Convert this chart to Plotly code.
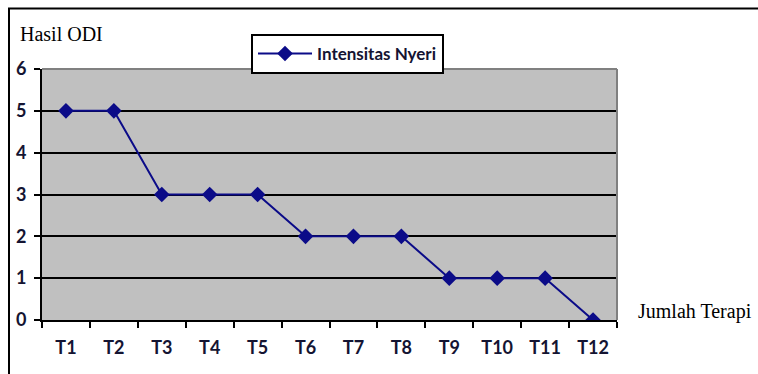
import plotly.graph_objects as go

categories = ["T1", "T2", "T3", "T4", "T5", "T6", "T7", "T8", "T9", "T10", "T11", "T12"]
intensitas_nyeri = [5, 5, 3, 3, 3, 2, 2, 2, 1, 1, 1, 0]
y_ticks = [0, 1, 2, 3, 4, 5, 6]

W, H = 758, 374
L, R, T, B = 42, 617, 69, 320

def px(x):
    return (x - L) / (R - L)

def py(y):
    return (B - y) / (B - T)

navy = "#0B0B88"
tickcol = "#141432"

fig = go.Figure()
fig.add_trace(go.Scatter(
    x=categories, y=intensitas_nyeri, mode="lines+markers", name="Intensitas Nyeri",
    line=dict(color=navy, width=2),
    marker=dict(symbol="diamond", size=12, color=navy),
))

fig.update_layout(
    width=W, height=H,
    margin=dict(l=L, r=W - R, t=T, b=H - B, pad=0, autoexpand=False),
    paper_bgcolor="white",
    plot_bgcolor="#C0C0C0",
    showlegend=True,
    legend=dict(
        x=px(251), y=py(34), xanchor="left", yanchor="top",
        bordercolor="black", borderwidth=2, bgcolor="white",
        font=dict(family="Lato", size=17, color=tickcol, weight="bold"),
        itemwidth=54,
    ),
    xaxis=dict(
        type="category", tickson="boundaries", ticks="outside", ticklen=6, tickwidth=2,
        tickcolor="black", showline=True, linecolor="black", linewidth=2,
        showgrid=False, zeroline=False, automargin=False,
        tickfont=dict(family="Lato", size=18, color=tickcol, weight="bold"),
        ticklabelstandoff=10,
        range=[-0.5, 11.5],
    ),
    yaxis=dict(
        range=[0, 6], tickvals=y_ticks, ticks="outside", ticklen=6, tickwidth=2,
        tickcolor="black", showline=True, linecolor="black", linewidth=2,
        showgrid=True, gridcolor="black", gridwidth=2, zeroline=False, automargin=False,
        tickfont=dict(family="Lato", size=18, color=tickcol, weight="bold"),
        ticklabelstandoff=4,
    ),
    font=dict(family="Lato"),
    shapes=[
        dict(type="line", xref="paper", yref="paper", x0=0, x1=1, y0=1, y1=1,
             line=dict(color="#808080", width=2)),
        dict(type="line", xref="paper", yref="paper", x0=1, x1=1, y0=0, y1=1,
             line=dict(color="#808080", width=2)),
        dict(type="line", xref="paper", yref="paper", x0=px(8), x1=px(760), y0=py(8.5), y1=py(8.5),
             line=dict(color="black", width=2)),
        dict(type="line", xref="paper", yref="paper", x0=px(9), x1=px(9), y0=py(8), y1=py(380),
             line=dict(color="black", width=2)),
    ],
    annotations=[
        dict(text="Hasil ODI", xref="paper", yref="paper", x=px(18), y=py(34),
             xanchor="left", yanchor="middle", showarrow=False,
             font=dict(family="Liberation Serif", size=20, color="black")),
        dict(text="Jumlah Terapi", xref="paper", yref="paper", x=px(636), y=py(311),
             xanchor="left", yanchor="middle", showarrow=False,
             font=dict(family="Liberation Serif", size=20, color="black")),
    ],
)

fig.write_html("out.html")
